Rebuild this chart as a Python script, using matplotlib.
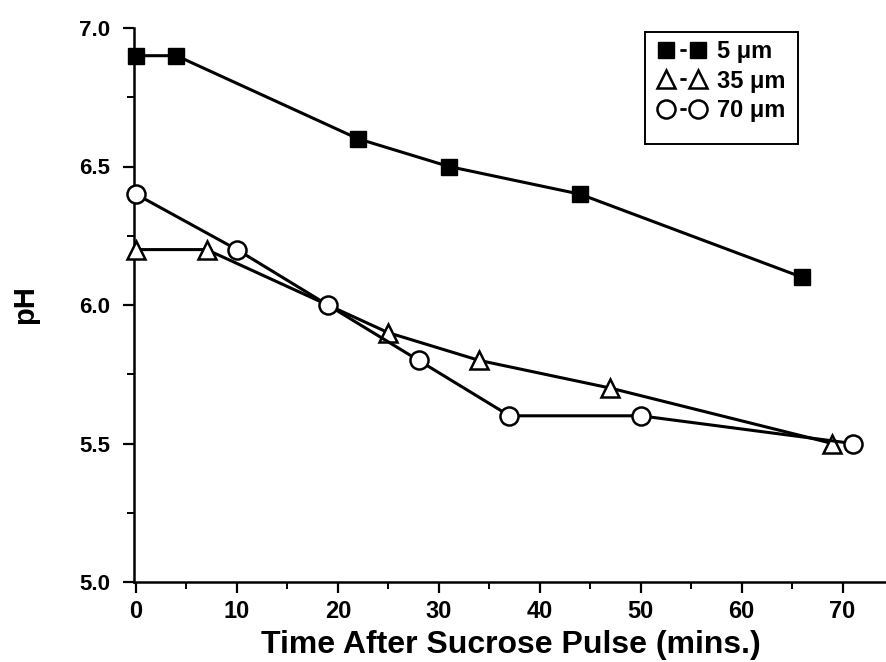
import matplotlib
matplotlib.use("Agg")
import matplotlib.pyplot as plt
from matplotlib.ticker import MultipleLocator, FormatStrFormatter
from matplotlib.patches import Rectangle

plt.rcParams['font.family'] = ['Liberation Sans', 'DejaVu Sans']
plt.rcParams['font.weight'] = 'bold'
plt.rcParams['lines.scale_dashes'] = False

t5 = [0, 4, 22, 31, 44, 66]
ph5 = [6.9, 6.9, 6.6, 6.5, 6.4, 6.1]
t35 = [0, 7, 25, 34, 47, 69]
ph35 = [6.2, 6.2, 5.9, 5.8, 5.7, 5.5]
t70 = [0, 10, 19, 28, 37, 50, 71]
ph70 = [6.4, 6.2, 6.0, 5.8, 5.6, 5.6, 5.5]
labels = ["5 μm", "35 μm", "70 μm"]

W, H = 887, 662
fig = plt.figure(figsize=(W / 100, H / 100), dpi=100)
ax = fig.add_axes([134 / W, 1 - 582 / H, 1 - 134 / W, (582 - 28) / H])

lw = 2.2
ax.plot(t5, ph5, color='black', lw=lw, marker='s', ms=12, mfc='black', mec='black',
        label=labels[0], zorder=3, clip_on=False)
ax.plot(t35, ph35, color='black', lw=lw, marker='^', ms=12.5, mfc='white', mec='black', mew=1.8,
        label=labels[1], zorder=3, clip_on=False)
ax.plot(t70, ph70, color='black', lw=lw, marker='o', ms=13, mfc='white', mec='black', mew=1.8,
        label=labels[2], zorder=4, clip_on=False)

ax.set_xlim(-0.2, 74.4)
ax.set_ylim(5.0, 7.0)
ax.xaxis.set_major_locator(MultipleLocator(10))
ax.xaxis.set_minor_locator(MultipleLocator(5))
ax.yaxis.set_major_locator(MultipleLocator(0.5))
ax.yaxis.set_minor_locator(MultipleLocator(0.25))
ax.yaxis.set_major_formatter(FormatStrFormatter('%.1f'))

ax.spines['top'].set_visible(False)
ax.spines['right'].set_visible(False)
for s in ['left', 'bottom']:
    ax.spines[s].set_linewidth(1.8)
ax.tick_params(which='major', direction='out', length=8, width=1.6)
ax.tick_params(which='minor', direction='out', length=5, width=1.4)
ax.tick_params(axis='x', which='major', labelsize=17, pad=5)
ax.tick_params(axis='y', which='major', labelsize=16, pad=9)
for lab in ax.get_xticklabels() + ax.get_yticklabels():
    lab.set_fontweight('bold')

ax.set_xlabel("Time After Sucrose Pulse (mins.)", fontsize=23, fontweight='bold', labelpad=5)
ax.set_ylabel("pH", fontsize=21, fontweight='bold')
ax.yaxis.set_label_coords(-0.126, 0.5)

# legend box
fig.patches.append(Rectangle((645 / W, 1 - 144 / H), (798 - 645) / W, (144 - 32) / H,
                             transform=fig.transFigure, fill=False, edgecolor='black',
                             linewidth=1.4, zorder=5))
leg = ax.legend(loc='upper left', bbox_to_anchor=(659 / W, 1 - 40 / H), bbox_transform=fig.transFigure,
                numpoints=2, handlelength=1.95, handletextpad=0.5, fontsize=17, frameon=False,
                borderpad=0, borderaxespad=0, labelspacing=0.28, markerscale=1.0)
for line in leg.get_lines():
    line.set_linewidth(2.0)
    line.set_linestyle((94.5, (4.5, 100.0)))
for txt in leg.get_texts():
    txt.set_fontweight('bold')

fig.savefig("out.png", dpi=100)
